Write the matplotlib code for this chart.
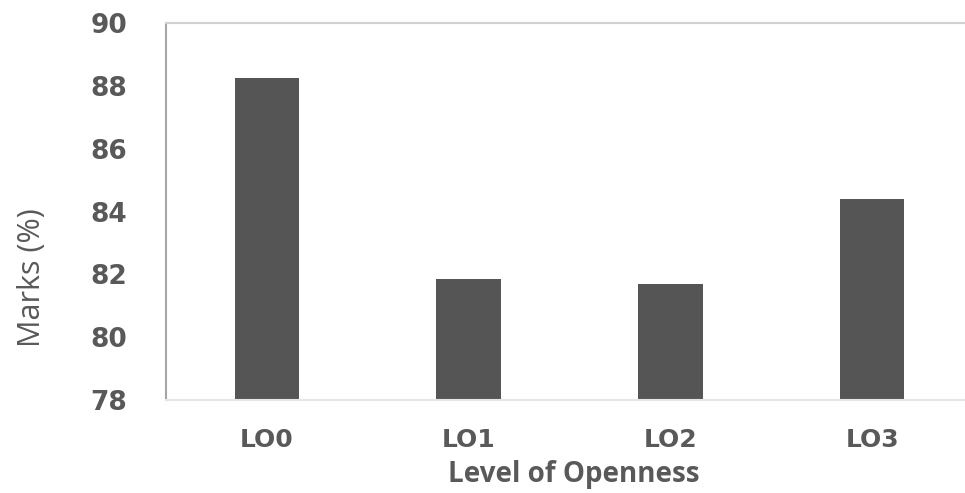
import matplotlib
matplotlib.use("Agg")
import matplotlib.pyplot as plt

levels = ["LO0", "LO1", "LO2", "LO3"]
marks = [88.25, 81.85, 81.7, 84.4]
y_ticks = [78, 80, 82, 84, 86, 88, 90]

text_grey = "#595959"

fig = plt.figure(figsize=(9.65, 4.93), dpi=100)
ax = fig.add_axes([0.172, 0.1886, 0.828, 0.7647])

ax.bar(range(len(levels)), marks, width=0.32, color="#555555")
ax.set_ylim(78, 90)
ax.set_xlim(-0.5, 3.46)
ax.set_yticks(y_ticks)
ax.set_xticks(range(len(levels)))
ax.set_xticklabels(levels)

ax.tick_params(axis="both", length=0, colors=text_grey)
ax.tick_params(axis="y", pad=28)
ax.tick_params(axis="x", pad=20)
for lbl in ax.get_yticklabels():
    lbl.set_fontsize(19)
    lbl.set_fontweight("bold")
for lbl in ax.get_xticklabels():
    lbl.set_fontsize(18)
    lbl.set_fontweight("bold")

ax.set_xlabel("Level of Openness", fontsize=20, fontweight="bold",
              color=text_grey, family="Open Sans")
ax.xaxis.set_label_coords(0.51, -0.16)
fig.text(32 / 965, 1 - 278 / 493, "Marks (%)", fontsize=22, color=text_grey,
         family="Open Sans", rotation=90, ha="center", va="center")

ax.spines["left"].set_color("#a6a6a6")
ax.spines["left"].set_linewidth(1.5)
ax.spines["top"].set_color("#d0d0d0")
ax.spines["top"].set_linewidth(1.5)
ax.spines["bottom"].set_color("#e6e6e6")
ax.spines["bottom"].set_linewidth(1.5)
ax.spines["right"].set_visible(False)

fig.savefig("out.png", dpi=100)
